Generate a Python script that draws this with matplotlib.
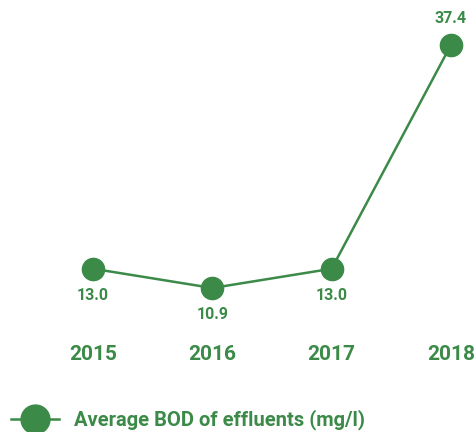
import matplotlib
matplotlib.use("Agg")
import matplotlib.pyplot as plt
import matplotlib.transforms as mtransforms

years = ["2015", "2016", "2017", "2018"]
bod = [13.0, 10.9, 13.0, 37.4]
series_label = "Average BOD of effluents (mg/l)"

GREEN = "#3b8a48"
plt.rcParams['font.family'] = ['Roboto', 'DejaVu Sans']
plt.rcParams['font.weight'] = 'bold'

fig = plt.figure(figsize=(4.76, 4.32), dpi=100)
ax = fig.add_axes([0, 0, 1, 1])
ax.axis('off')

x = list(range(len(years)))
line, = ax.plot(x, bod, color=GREEN, lw=1.8, marker='o', markersize=16,
                markerfacecolor=GREEN, markeredgecolor=GREEN, label=series_label)

ax.set_xlim(-0.78, 3.21)
ax.set_ylim(-4.8, 42.3)

for i, v in enumerate(bod):
    off = 19 if i == len(bod) - 1 else -19
    ax.annotate(f"{v:.1f}", (i, v), xytext=(0, off), textcoords='offset points',
                ha='center', va='center', color=GREEN, fontsize=11.5, fontweight='bold')

trans = mtransforms.blended_transform_factory(ax.transData, ax.transAxes)
for i, yr in enumerate(years):
    ax.text(i, 1 - 355 / 432, yr, transform=trans, ha='center', va='center',
            color=GREEN, fontsize=15, fontweight='bold')

leg = ax.legend(handles=[line], loc='center left', bbox_to_anchor=(11 / 476, 1 - 420 / 432),
                frameon=False, fontsize=14.5, handlelength=2.4, handletextpad=0.75,
                borderaxespad=0, borderpad=0.0, markerscale=1.3)
for t in leg.get_texts():
    t.set_color(GREEN)
    t.set_fontweight('bold')

fig.savefig("out.png", dpi=100)
